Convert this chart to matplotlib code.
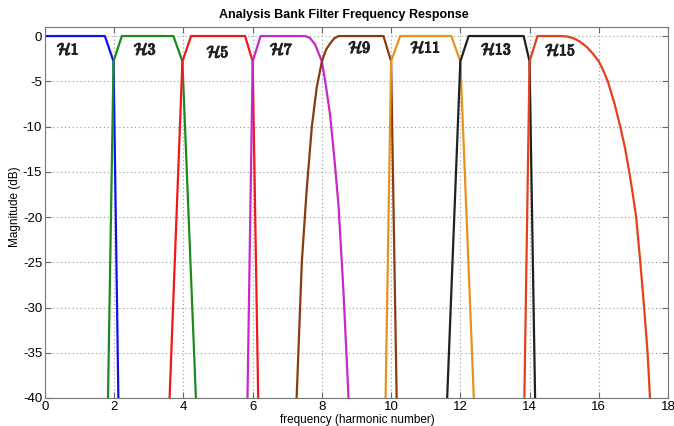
import matplotlib.pyplot as plt
import matplotlib.patheffects as pe

plt.rcParams['font.family'] = ['Liberation Sans', 'DejaVu Sans']
plt.rcParams['mathtext.fontset'] = 'cm'
plt.rcParams['axes.unicode_minus'] = False

# breakpoints of each analysis filter: frequency (harmonic number) and magnitude (dB)
h1_f = [0.0, 1.73, 1.98, 2.12]
h1_db = [0, 0, -2.8, -40]
h3_f = [1.82, 1.98, 2.22, 3.71, 3.97, 4.36]
h3_db = [-40, -2.8, 0, 0, -2.8, -40]
h5_f = [3.60, 3.97, 4.22, 5.78, 6.0, 6.16]
h5_db = [-40, -2.8, 0, 0, -2.8, -40]
h7_f = [5.85, 6.0, 6.23, 7.51, 7.65, 7.8, 8.0, 8.12, 8.24, 8.36, 8.48, 8.62, 8.77]
h7_db = [-40, -2.8, 0, 0, -0.2, -0.9, -2.8, -5.6, -8.8, -13.5, -18.7, -28, -40]
h9_f = [7.27, 7.35, 7.42, 7.56, 7.71, 7.85, 8.0, 8.12, 8.24, 8.36, 8.48, 9.78, 10.0, 10.16]
h9_db = [-40, -32, -25, -17, -10, -5.7, -2.8, -1.5, -0.8, -0.25, 0, 0, -2.8, -40]
h11_f = [9.84, 10.0, 10.26, 11.74, 12.0, 12.39]
h11_db = [-40, -2.8, 0, 0, -2.8, -40]
h13_f = [11.62, 12.0, 12.24, 13.83, 14.0, 14.16]
h13_db = [-40, -2.8, 0, 0, -2.8, -40]
h15_f = [13.85, 14.0, 14.23, 14.88, 15.1, 15.27, 15.45, 15.65, 15.82, 16.0, 16.13, 16.26,
         16.45, 16.62, 16.76, 16.88, 16.98, 17.08, 17.2, 17.31, 17.41, 17.48]
h15_db = [-40, -2.8, 0, 0, -0.05, -0.25, -0.6, -1.2, -1.9, -2.8, -3.8, -5,
          -7.4, -10, -12.4, -15, -17.4, -20, -25, -30, -35, -40]

names = ['1', '3', '5', '7', '9', '11', '13', '15']
label_x = [0.67, 2.9, 5.0, 6.84, 9.1, 11.0, 13.05, 14.9]
label_y = [-1.5, -1.5, -1.8, -1.5, -1.3, -1.3, -1.5, -1.6]

curves = [(h1_f, h1_db), (h3_f, h3_db), (h5_f, h5_db), (h7_f, h7_db),
          (h9_f, h9_db), (h11_f, h11_db), (h13_f, h13_db), (h15_f, h15_db)]
colors = ['#1010f0', '#1e8a1e', '#f01818', '#c828c8',
          '#8a3a10', '#e8921e', '#202020', '#e4401a']

fig = plt.figure(figsize=(6.74, 4.26), dpi=100)
ax = fig.add_axes([45 / 674, 1 - 398 / 426, 623 / 674, 371 / 426])

for (f, db), c in zip(curves, colors):
    ax.plot(f, db, color=c, lw=1.6, solid_joinstyle='round')

for n, x, y in zip(names, label_x, label_y):
    ax.text(x, y, r'$\mathcal{H}' + n + '$', fontsize=11.5, ha='center', va='center',
            color='#222222',
            path_effects=[pe.withStroke(linewidth=0.9, foreground='#222222')])

ax.set_xlim(0, 18)
ax.set_ylim(-40, 1)
ax.set_xticks(range(0, 19, 2))
ax.set_yticks(range(-40, 1, 5))
ax.grid(True, linestyle=(0, (1, 2.5)), color='#999999', lw=0.8)
ax.tick_params(direction='in', top=True, right=True, length=4, labelsize=9.5,
               color='#666666', pad=2)
for s in ax.spines.values():
    s.set_color('#777777')

fig.text(344 / 674, 1 - 15 / 426, 'Analysis Bank Filter Frequency Response',
         ha='center', va='center', fontsize=9, fontweight='bold')
fig.text(357 / 674, 1 - 420 / 426, 'frequency (harmonic number)',
         ha='center', va='center', fontsize=8.5)
fig.text(15 / 674, 1 - 207 / 426, 'Magnitude (dB)', rotation=90,
         ha='center', va='center', fontsize=8.5)

fig.savefig('out.png', dpi=100)
